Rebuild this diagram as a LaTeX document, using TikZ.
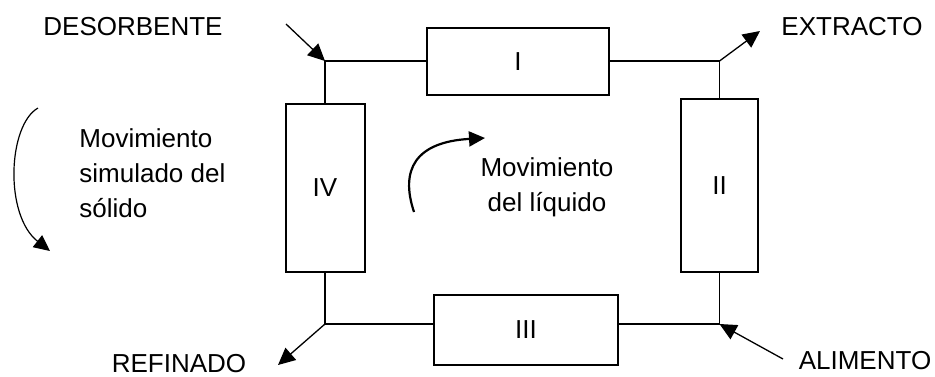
\documentclass[tikz,border=0pt]{standalone}
\usepackage{fontspec}
\setmainfont{Liberation Sans}
\usetikzlibrary{arrows.meta}
\begin{document}
\begin{tikzpicture}[x=0.5pt,y=-0.5pt,
  colbox/.style={draw,line width=1pt,minimum width=#1,inner sep=0pt},
  lbl/.style={font=\fontsize{13}{17.5}\selectfont,inner sep=0pt},
  conn/.style={line width=0.65pt},
  flow/.style={line width=0.65pt,-{Triangle[length=8.5pt,width=8pt]}},
  curv/.style={-{Triangle[length=8pt,width=7.5pt]}}]
\useasboundingbox (0,0) rectangle (935,376);
% boxes
\node[colbox=91pt,minimum height=33.5pt,lbl] (I) at (518,61.5) {I};
\node[colbox=38.5pt,minimum height=86.5pt,lbl] (II) at (719.5,185.5) {II};
\node[colbox=92pt,minimum height=35pt,lbl] (III) at (526,330) {III};
\node[colbox=39.5pt,minimum height=84pt,lbl] (IV) at (325,188) {IV};
% junctions
\coordinate (TL) at (325,61);
\coordinate (TR) at (719.5,61);
\coordinate (BR) at (719.5,324);
\coordinate (BL) at (325,324);
\draw[conn] (IV.north) -- (TL) -- (I.west |- TL);
\draw[conn] (I.east |- TR) -- (TR) -- (II.north);
\draw[conn] (II.south) -- (BR) -- (III.east |- BR);
\draw[conn] (III.west |- BL) -- (BL) -- (IV.south);
% labels
\node[lbl] (des) at (133,27) {DESORBENTE};
\node[lbl] (ext) at (852,27) {EXTRACTO};
\node[lbl] (ref) at (179,364) {REFINADO};
\node[lbl] (ali) at (865,361) {ALIMENTO};
\coordinate (desS) at (286,24);
\coordinate (extE) at (760,31);
\coordinate (refE) at (278,365);
\coordinate (aliS) at (783,359);
\draw[flow] (desS) -- (TL);
\draw[flow] (TR) -- (extE);
\draw[flow] (BL) -- (refE);
\draw[flow] (aliS) -- (BR);
% movement texts
\node[lbl,anchor=west,align=left] (sol) at (79,173) {Movimiento\\simulado del\\s\'olido};
\node[lbl,align=center] (liq) at (547,187) {Movimiento\\del l\'iquido};
\coordinate (sA) at (38,108);
\coordinate (sB) at (50,251);
\draw[line width=0.6pt,curv] (sA) .. controls (8,125) and (4,215) .. (sB);
\coordinate (lA) at (414,212);
\coordinate (lB) at (485,138);
\draw[line width=1.1pt,curv] (lA) .. controls (400,170) and (415,142) .. (lB);
\end{tikzpicture}
\end{document}
